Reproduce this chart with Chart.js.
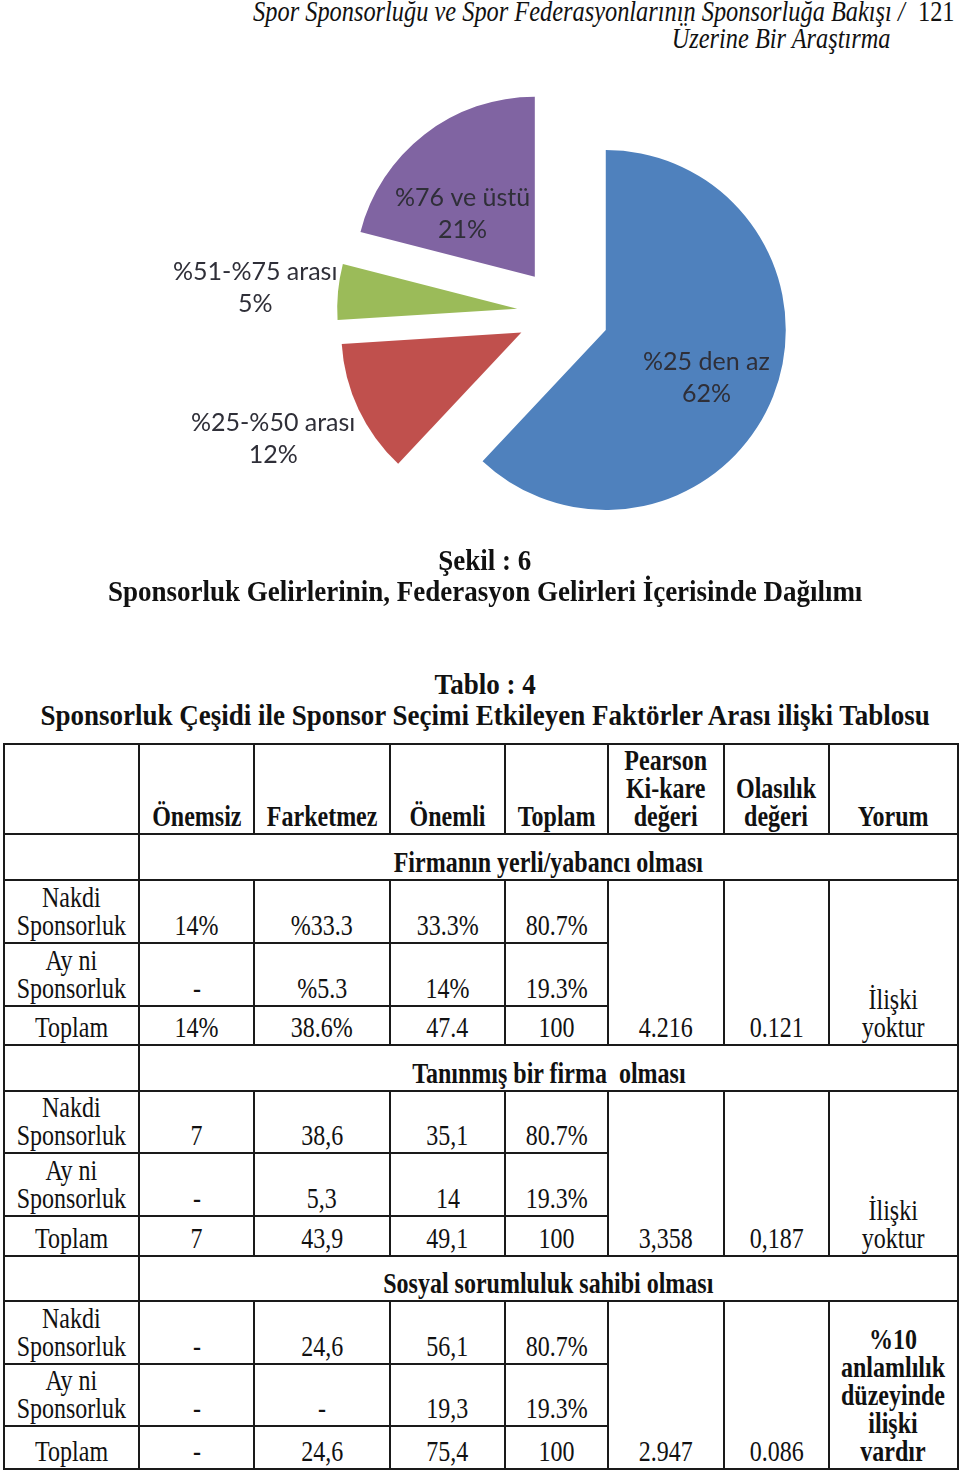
<!DOCTYPE html>
<html>
<head>
<meta charset="utf-8">
<script src="https://cdn.jsdelivr.net/npm/chart.js@4.4.0/dist/chart.umd.min.js"></script>
<style>
html,body{margin:0;padding:0;background:#fff;overflow:hidden}
body{width:960px;height:1471px;position:relative;font-family:"Liberation Serif","Times New Roman",serif;color:#111}
.abs{position:absolute;white-space:nowrap}
.sq{display:inline-block;margin:0 -60px;transform:scaleX(.8);transform-origin:center}
.run{font-style:italic;font-size:29px;line-height:29px;right:55px;width:900px;text-align:right}
.run span{display:inline-block;transform:scaleX(.84);transform-origin:right center}
.ttl{left:0;width:970px;text-align:center;font-weight:bold;font-size:30px;line-height:30px}
.ttl .sq{transform:scaleX(.9);margin:0 -200px}
#pieBox{position:absolute;left:166px;top:80px;width:794px;height:466px}
table{position:absolute;left:3px;top:743px;width:954px;border-collapse:collapse;table-layout:fixed}
td{border:2px solid #1a1a1a;padding:0 0 3px 0;text-align:center;vertical-align:bottom;font-size:30px;line-height:28px;white-space:nowrap}
td.b{font-weight:bold}
</style>
</head>
<body>
<div class="abs run" style="top:-3px"><span>Spor Sponsorluğu ve Spor Federasyonlarının Sponsorluğa Bakışı /</span></div>
<div class="abs" style="left:918px;top:-3px;font-size:29px;line-height:29px"><span style="display:inline-block;transform:scaleX(.84);transform-origin:left center">121</span></div>
<div class="abs run" style="top:24px;right:70px"><span>Üzerine Bir Araştırma</span></div>

<div id="pieBox"><canvas id="pie" width="794" height="466"></canvas></div>

<div class="abs ttl" style="top:545px"><span class="sq">Şekil : 6</span></div>
<div class="abs ttl" style="top:576px"><span class="sq">Sponsorluk Gelirlerinin, Federasyon Gelirleri İçerisinde Dağılımı</span></div>
<div class="abs ttl" style="top:669px"><span class="sq">Tablo : 4</span></div>
<div class="abs ttl" style="top:700px"><span class="sq">Sponsorluk Çeşidi ile Sponsor Seçimi Etkileyen Faktörler Arası ilişki Tablosu</span></div>

<table id="tbl"></table>

<script>
// ---- pie data ----
var SLICE_LABELS = ['%25 den az', '%25-%50 arası', '%51-%75 arası', '%76 ve üstü'];
var SLICE_VALUES = [62, 12, 5, 21];
var SLICE_COLORS = ['#4f81bd', '#c0504d', '#9bbb59', '#8064a2'];

// ---- table data ----
var COL_HEADS = ['Önemsiz', 'Farketmez', 'Önemli', 'Toplam', 'Pearson<br>Ki-kare<br>değeri', 'Olasılık<br>değeri', 'Yorum'];
var ROW_NAMES = ['Nakdi<br>Sponsorluk', 'Ay ni<br>Sponsorluk', 'Toplam'];
var SECTIONS = ['Firmanın yerli/yabancı olması', 'Tanınmış bir firma&nbsp; olması', 'Sosyal sorumluluk sahibi olması'];
var SEC1 = [['14%', '%33.3', '33.3%', '80.7%'], ['-', '%5.3', '14%', '19.3%'], ['14%', '38.6%', '47.4', '100']];
var SEC2 = [['7', '38,6', '35,1', '80.7%'], ['-', '5,3', '14', '19.3%'], ['7', '43,9', '49,1', '100']];
var SEC3 = [['-', '24,6', '56,1', '80.7%'], ['-', '-', '19,3', '19.3%'], ['-', '24,6', '75,4', '100']];
var PEARSON = ['4.216', '3,358', '2.947'];
var PROB = ['0.121', '0,187', '0.086'];
var COMMENT = ['İlişki<br>yoktur', 'İlişki<br>yoktur', '%10<br>anlamlılık<br>düzeyinde<br>ilişki<br>vardır'];

// layout (px / deg)
var COL_W = [135, 115, 136, 115, 103, 116, 105, 129];
var EXPLODE = 46;
var LABEL_POS = [0.62, 1.5, 1.46, 0.53];   // fraction of radius, from the exploded vertex
var LABEL_TURN = [4, 2, -0.8, -11.4];      // small angular nudge of each label

(function buildTable() {
  var SEC_DATA = [SEC1, SEC2, SEC3];
  var SEC_H = [[46, 63, 63, 39], [46, 62, 63, 40], [45, 63, 62, 43]];
  function sq(t) { return '<span class="sq">' + t + '</span>'; }
  var h = '<colgroup>' + COL_W.map(function (w) { return '<col style="width:' + w + 'px">'; }).join('') + '</colgroup>';
  h += '<tr style="height:90px"><td></td>' + COL_HEADS.map(function (c) { return '<td class="b">' + sq(c) + '</td>'; }).join('') + '</tr>';
  SEC_DATA.forEach(function (rows, s) {
    var hs = SEC_H[s];
    h += '<tr style="height:' + hs[0] + 'px"><td></td><td class="b" colspan="7">' + sq(SECTIONS[s]) + '</td></tr>';
    rows.forEach(function (r, i) {
      h += '<tr style="height:' + hs[i + 1] + 'px"><td>' + sq(ROW_NAMES[i]) + '</td>';
      h += r.map(function (v) { return '<td>' + sq(v) + '</td>'; }).join('');
      if (i === 0) {
        h += '<td rowspan="3">' + sq(PEARSON[s]) + '</td><td rowspan="3">' + sq(PROB[s]) + '</td>';
        h += '<td rowspan="3"' + (s === 2 ? ' class="b"' : '') + '>' + sq(COMMENT[s]) + '</td>';
      }
      h += '</tr>';
    });
  });
  document.getElementById('tbl').innerHTML = h;
})();

// draw each arc pushed out along its mid angle
var explodePlugin = {
  id: 'explode',
  beforeDatasetDraw: function (chart, args) {
    var ctx = chart.ctx;
    args.meta.data.forEach(function (arc) {
      var mid = (arc.startAngle + arc.endAngle) / 2;
      ctx.save();
      ctx.translate(Math.cos(mid) * EXPLODE, Math.sin(mid) * EXPLODE);
      arc.draw(ctx, chart.chartArea);
      ctx.restore();
    });
    return false;
  }
};

var labelPlugin = {
  id: 'sliceLabels',
  afterDatasetsDraw: function (chart) {
    var ctx = chart.ctx;
    var meta = chart.getDatasetMeta(0);
    ctx.save();
    ctx.font = '25px Lato, "Open Sans", sans-serif';
    ctx.fillStyle = '#2f2f38';
    ctx.textAlign = 'center';
    ctx.textBaseline = 'middle';
    meta.data.forEach(function (arc, i) {
      var mid = (arc.startAngle + arc.endAngle) / 2;
      var vx = arc.x + Math.cos(mid) * EXPLODE, vy = arc.y + Math.sin(mid) * EXPLODE;
      var a = mid + LABEL_TURN[i] * Math.PI / 180;
      var r = LABEL_POS[i] * arc.outerRadius;
      var x = vx + Math.cos(a) * r, y = vy + Math.sin(a) * r;
      ctx.fillText(SLICE_LABELS[i], x, y - 16);
      ctx.fillText(SLICE_VALUES[i] + '%', x, y + 16);
    });
    ctx.restore();
  }
};

new Chart(document.getElementById('pie'), {
  type: 'pie',
  data: {
    labels: SLICE_LABELS,
    datasets: [{ data: SLICE_VALUES, backgroundColor: SLICE_COLORS, borderWidth: 0 }]
  },
  options: {
    responsive: false,
    animation: false,
    radius: 180,
    layout: { padding: 0 },
    plugins: { legend: { display: false }, tooltip: { enabled: false } }
  },
  plugins: [explodePlugin, labelPlugin]
});
</script>
</body>
</html>
